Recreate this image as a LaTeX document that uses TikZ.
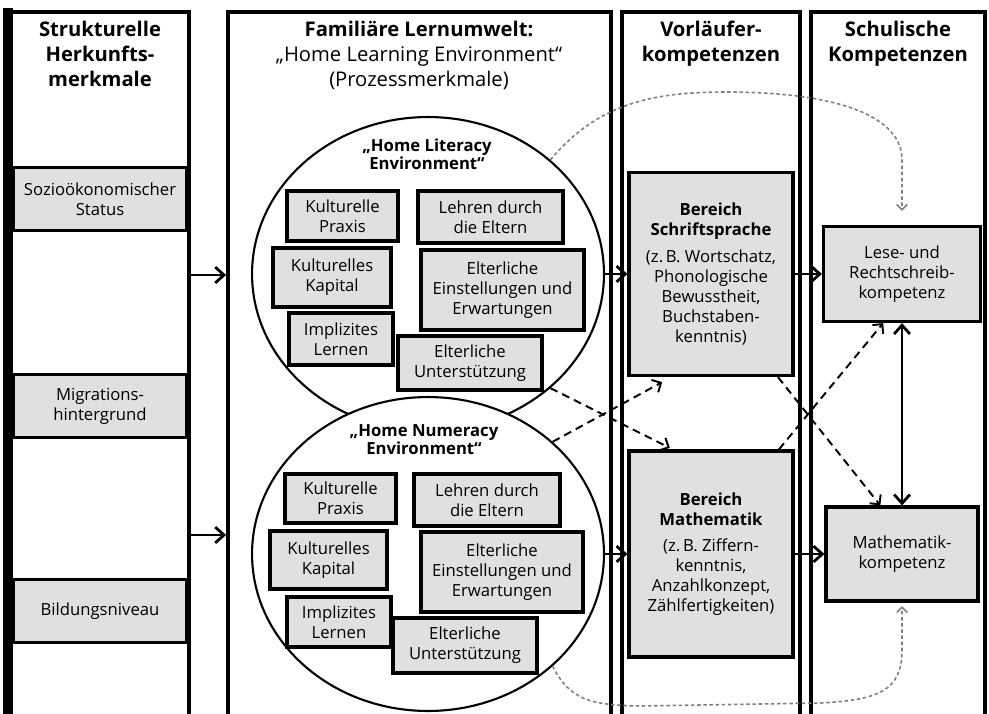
\documentclass[tikz,border=0pt]{standalone}
\usepackage{fontspec}
\setmainfont{Open Sans}
\usetikzlibrary{shapes.geometric,arrows.meta}
\definecolor{boxgray}{gray}{0.88}
\definecolor{linegray}{gray}{0.5}

\begin{document}
\begin{tikzpicture}[x=0.02cm, y=-0.02cm,
    every node/.style={font=\fontsize{9.5}{11.3}\selectfont},
    head/.style={anchor=north, align=center, inner sep=0pt, font=\fontsize{11.5}{14.2}\selectfont},
    headb/.style={head, font=\fontsize{11.5}{14.2}\selectfont\bfseries},
    column/.style={draw, line width=2.2pt, inner sep=0pt, anchor=north, minimum height=14.6cm},
    env/.style={draw, ellipse, fill=white, line width=1.2pt, inner sep=0pt,
                minimum width=7.04cm, minimum height=6.28cm},
    envtitle/.style={align=center, inner sep=0pt, font=\fontsize{9.5}{10.3}\selectfont\bfseries},
    gbox/.style={draw, fill=boxgray, line width=1.8pt, align=center, inner sep=0pt},
    flow/.style={line width=1.6pt, -{Straight Barb[length=5pt,width=9pt]}},
    cross/.style={line width=1.1pt, dash pattern=on 4.5pt off 3pt, -{Straight Barb[length=4pt,width=8pt]}},
    feedback/.style={linegray, line width=0.9pt, dash pattern=on 2pt off 1.5pt,
                     -{Straight Barb[length=3pt,width=6pt]}}]

  \useasboundingbox (0,0) rectangle (989,713);
  \clip (0,0) rectangle (989,713);

  % the four columns
  \node[column, minimum width=3.68cm] (col1) at (97,10)    {};
  \node[column, minimum width=7.66cm] (col2) at (419.5,10) {};
  \node[column, minimum width=3.56cm] (col3) at (711,10)   {};
  \node[column, minimum width=3.48cm] (col4) at (898,10)   {};
  \fill (3,8) rectangle (13,730);

  \node[headb] (h1) at (100,21) {Strukturelle\\Herkunfts-\\merkmale};
  \node[head]  (h2) at (419,21) {\textbf{Familiäre Lernumwelt:}\\„Home Learning Environment“\\(Prozessmerkmale)};
  \node[headb] (h3) at (711,21) {Vorläufer-\\kompetenzen};
  \node[headb] (h4) at (898,21) {Schulische\\Kompetenzen};

  % structural features
  \node[gbox, minimum width=3.48cm, minimum height=1.25cm] (sozio) at (100,199) {Sozioökonomischer\\Status};
  \node[gbox, minimum width=3.48cm, minimum height=1.25cm] (migra) at (100,406) {Migrations-\\hintergrund};
  \node[gbox, minimum width=3.48cm, minimum height=1.25cm] (bild)  at (100,611) {Bildungsniveau};

  % home literacy environment
  \node[env] (hle) at (428,274) {};
  \node[envtitle] (hletitle) at (427,154) {„Home Literacy\\Environment“};
  \node[gbox, minimum width=2.22cm, minimum height=1.0cm]  (lkp) at (342.5,216) {Kulturelle\\Praxis};
  \node[gbox, minimum width=2.9cm,  minimum height=1.04cm] (lle) at (490.5,217) {Lehren durch\\die Eltern};
  \node[gbox, minimum width=2.36cm, minimum height=1.18cm] (lkk) at (332,277.5) {Kulturelles\\Kapital};
  \node[gbox, minimum width=3.26cm, minimum height=1.6cm]  (lee) at (502.5,290) {Elterliche\\Einstellungen und\\Erwartungen};
  \node[gbox, minimum width=2.08cm, minimum height=1.04cm] (lil) at (341,339)   {Implizites\\Lernen};
  \node[gbox, minimum width=2.88cm, minimum height=1.08cm] (lus) at (470,363)   {Elterliche\\Unterstützung};

  % home numeracy environment
  \node[env] (hne) at (428,554) {};
  \node[envtitle] (hnetitle) at (424,440) {„Home Numeracy\\Environment“};
  \node[gbox, minimum width=2.22cm, minimum height=0.98cm] (nkp) at (340.5,498.5) {Kulturelle\\Praxis};
  \node[gbox, minimum width=2.92cm, minimum height=1.04cm] (nle) at (487,500)     {Lehren durch\\die Eltern};
  \node[gbox, minimum width=2.34cm, minimum height=1.16cm] (nkk) at (328.5,560)   {Kulturelles\\Kapital};
  \node[gbox, minimum width=3.24cm, minimum height=1.6cm]  (nee) at (502,572)     {Elterliche\\Einstellungen und\\Erwartungen};
  \node[gbox, minimum width=2.08cm, minimum height=1.0cm]  (nil) at (339,622)     {Implizites\\Lernen};
  \node[gbox, minimum width=2.88cm, minimum height=1.1cm]  (nus) at (465,645.5)   {Elterliche\\Unterstützung};

  % precursor and school competences
  \node[gbox, minimum width=3.28cm, minimum height=4.06cm] (schrift) at (711,274)
    {\textbf{Bereich}\\\textbf{Schriftsprache}\\[4pt](z.\,B. Wortschatz,\\Phonologische\\Bewusstheit,\\Buchstaben-\\kenntnis)};
  \node[gbox, minimum width=3.28cm, minimum height=4.12cm] (mat) at (711,554)
    {\textbf{Bereich}\\\textbf{Mathematik}\\[4pt](z.\,B. Ziffern-\\kenntnis,\\Anzahlkonzept,\\Zählfertigkeiten)};
  \node[gbox, minimum width=3.14cm, minimum height=1.9cm]  (lese) at (902,274) {Lese- und\\Rechtschreib-\\kompetenz};
  \node[gbox, minimum width=3.04cm, minimum height=1.88cm] (matk) at (902,554) {Mathematik-\\kompetenz};

  \coordinate (in1) at (0,275);
  \coordinate (in2) at (0,535);
  \draw[flow] (col1.east |- in1) -- (col2.west |- in1);
  \draw[flow] (col1.east |- in2) -- (col2.west |- in2);
  \draw[flow] (hle.east) -- (schrift.west);
  \draw[flow] (hne.east) -- (mat.west);
  \draw[flow] (schrift.east) -- (lese.west);
  \draw[flow] (mat.east) -- (matk.west);
  \draw[flow, {Straight Barb[length=5pt,width=9pt]}-{Straight Barb[length=5pt,width=9pt]}] (lese.south) -- (matk.north);

  \draw[cross, shorten >=2pt] (hle.-43) -- (mat.110);
  \draw[cross, shorten >=6pt] (hne.42)  -- (schrift.-111);
  \draw[cross] (schrift.-57) -- (matk.114);
  \draw[cross] (mat.57) -- (lese.-111);

  \draw[feedback, shorten >=8pt] (hle.43) .. controls (600,100) and (660,92) .. (727,92)
    .. controls (820,92) and (902,110) .. (902,160) -- (lese.north);
  \draw[feedback, shorten >=2pt] (hne.-42) .. controls (570,700) and (590,705) .. (640,706)
    -- (820,703) .. controls (880,700) and (902,690) .. (902,650) -- (matk.south);
\end{tikzpicture}
\end{document}
